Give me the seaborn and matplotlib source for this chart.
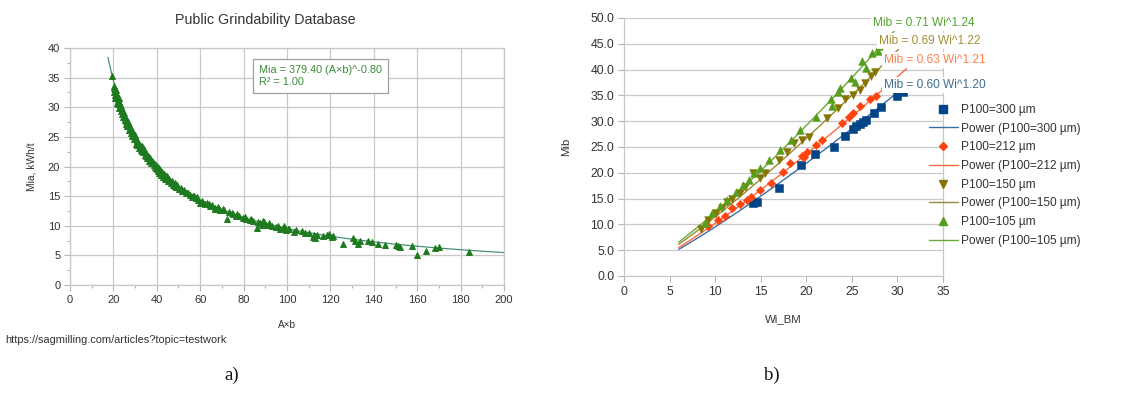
import numpy as np
import pandas as pd
import seaborn as sns
import matplotlib.pyplot as plt
from matplotlib.ticker import MultipleLocator, FormatStrFormatter
from matplotlib.lines import Line2D

# ---------------- data: panel a ----------------
ab = [19.5, 20.4, 20.5, 20.6, 20.7, 20.8, 21.0, 21.2, 21.4, 21.6, 21.9, 22.2, 22.5, 22.8, 23.1,
      23.4, 23.7, 24.0, 24.3, 24.6, 25.0, 25.3, 25.7, 26.0, 26.4, 26.8, 27.2, 27.6, 28.0, 28.4,
      28.8, 29.2, 29.6, 30.0, 30.3, 30.7, 31.1, 31.5, 31.9, 32.3, 32.7, 33.1, 33.5, 34.0, 34.5,
      35.0, 35.5, 36.0, 36.5, 37.0, 37.5, 38.0, 38.5, 39.0, 39.5, 40.0, 40.4, 40.8, 41.2, 41.6,
      42.0, 42.5, 43.0, 43.5, 44.0, 44.6, 45.2, 45.8, 46.4, 47.0, 47.6, 48.2, 48.8, 49.5, 50.2,
      51.0, 51.8, 52.6, 53.4, 54.3, 55.2, 56.1, 57.0, 58.0, 59.0, 60.0, 61.0, 62.0, 63.1, 64.3,
      65.5, 66.8, 68.0, 69.3, 70.5, 72.3, 73.5, 75.0, 76.5, 78.0, 79.5, 81.0, 82.8, 84.5, 86.2,
      87.5, 88.5, 89.5, 90.5, 91.5, 93.0, 95.0, 97.0, 98.5, 99.0, 99.5, 100.5, 103.0, 104.0, 107.0,
      108.5, 112.0, 112.5, 113.0, 116.5, 118.5, 119.5, 120.5, 126.0, 130.5, 131.5, 132.5, 137.5, 139.0,
      142.0, 145.0, 150.0, 152.0, 157.5, 160.0, 164.0, 168.0, 170.0, 184.0,
      20.5, 21.1, 21.8, 22.4, 23.0, 23.6, 24.2, 24.8, 25.5, 26.2, 26.9, 27.5, 28.2, 28.9, 29.5,
      30.1, 30.9, 31.7, 32.5, 33.3, 34.2, 35.2, 36.2, 37.2, 38.2, 39.2, 40.2, 41.0, 41.8, 42.8,
      43.8, 44.8, 46.0, 47.2, 48.5, 50.0, 52.0, 54.0, 56.5, 58.5, 61.5, 64.0, 67.0, 71.0, 74.5,
      77.0, 80.5, 83.5, 86.5, 89.0, 92.0, 96.0, 98.0, 101.0, 110.0, 114.0, 121.0, 133.5, 151.0]
mia = [35.3, 33.2, 32.6, 33.0, 32.0, 31.6, 32.4, 31.5, 31.9, 30.8, 31.2, 30.6, 30.9, 29.8, 30.2,
       29.4, 29.8, 28.9, 29.2, 28.3, 28.6, 27.9, 27.2, 27.6, 26.9, 27.0, 26.2, 26.5, 25.7, 25.9,
       25.1, 25.4, 24.6, 24.9, 23.8, 24.3, 23.6, 23.9, 23.2, 23.6, 22.8, 23.4, 22.5, 22.9, 21.9,
       22.3, 21.4, 21.8, 21.0, 21.4, 20.6, 20.9, 20.2, 20.5, 19.7, 20.1, 19.2, 19.8, 18.9, 19.4,
       18.6, 19.0, 18.3, 18.7, 17.9, 18.4, 17.6, 17.9, 17.2, 17.6, 16.9, 17.2, 16.6, 16.9, 16.2,
       16.4, 15.9, 16.1, 15.6, 15.5, 15.2, 14.9, 15.0, 14.6, 14.3, 13.9, 14.1, 13.7, 13.9, 13.3,
       13.5, 12.9, 13.1, 12.6, 12.8, 11.2, 12.3, 11.9, 11.6, 11.7, 11.3, 11.2, 11.0, 10.8, 9.6,
       10.5, 10.2, 10.6, 10.1, 10.4, 9.9, 9.8, 9.4, 10.0, 9.6, 9.2, 9.5, 9.0, 9.2, 9.1,
       8.8, 8.1, 8.5, 7.9, 8.3, 8.4, 8.6, 8.1, 7.0, 7.9, 7.5, 6.9, 7.5, 7.2,
       7.0, 6.7, 6.8, 6.4, 6.6, 5.0, 5.8, 6.2, 6.4, 5.6,
       33.6, 32.9, 31.9, 31.5, 30.6, 30.2, 29.6, 29.1, 28.2, 27.8, 27.5, 26.9, 26.1, 25.9, 25.2,
       25.3, 24.5, 23.7, 23.3, 22.7, 22.8, 21.7, 21.6, 20.9, 20.8, 20.0, 19.6, 19.5, 19.1, 18.6,
       18.5, 18.1, 17.6, 17.3, 16.7, 16.6, 15.9, 15.6, 15.0, 14.8, 13.8, 13.6, 13.0, 12.6, 12.1,
       11.9, 11.4, 11.2, 10.7, 10.8, 10.2, 9.9, 9.7, 9.4, 8.8, 8.5, 8.2, 7.4, 6.6]
fit_a_coef = 379.40
fit_a_exp = -0.80

# ---------------- data: panel b ----------------
w300 = [14.1, 14.6, 17.0, 19.4, 21.0, 23.0, 24.2, 25.1, 25.5, 25.9, 26.2, 26.5, 27.4, 28.2, 29.9, 30.6]
m300 = [14.1, 14.4, 17.1, 21.5, 23.6, 25.0, 27.1, 28.5, 29.1, 29.5, 29.9, 30.3, 31.6, 32.7, 34.8, 35.6]
w212 = [9.25, 10.3, 11.1, 11.9, 12.7, 13.5, 13.9, 14.9, 16.1, 17.4, 18.2, 19.5, 19.8, 20.1, 21.1,
        21.7, 23.9, 24.7, 25.1, 25.9, 27.0, 27.6, 28.6, 29.1]
m212 = [9.6, 10.9, 11.6, 13.1, 14.0, 14.7, 15.4, 16.7, 18.0, 20.2, 21.9, 23.3, 23.0, 24.1, 25.3,
        26.4, 29.6, 30.9, 31.6, 32.9, 34.2, 34.8, 36.4, 37.4]
w150 = [8.4, 9.25, 10.1, 10.7, 11.3, 11.9, 12.7, 13.3, 14.2, 14.9, 15.5, 17.0, 17.9, 18.7, 19.5,
        20.3, 22.3, 23.5, 24.3, 25.1, 25.9, 26.4, 27.1, 27.5]
m150 = [9.2, 10.9, 12.2, 13.1, 14.4, 14.9, 16.0, 17.3, 19.9, 19.0, 19.9, 22.5, 24.1, 25.7, 26.4,
        27.0, 30.6, 32.5, 34.2, 35.1, 36.1, 37.4, 38.7, 39.5]
w105 = [8.85, 9.65, 10.5, 11.3, 12.3, 13.1, 13.7, 14.3, 14.9, 15.9, 17.1, 18.3, 19.3, 21.1, 22.7,
        22.8, 23.5, 23.7, 24.9, 25.3, 26.1, 26.5, 27.2, 27.9, 28.0]
m105 = [10.2, 12.2, 13.5, 14.7, 16.2, 17.7, 18.6, 19.9, 20.9, 22.5, 24.5, 26.4, 28.3, 30.9, 34.2,
        33.0, 35.7, 36.4, 38.4, 37.5, 41.6, 40.3, 43.2, 43.5, 44.5]
series_names = ['P100=300 µm', 'P100=212 µm', 'P100=150 µm', 'P100=105 µm']
fit_b_coef = [0.60, 0.63, 0.69, 0.71]
fit_b_exp = [1.20, 1.21, 1.22, 1.24]
fit_b_start = [6.0, 6.0, 6.0, 6.0]
fit_b_end = [30.8, 31.0, 30.5, 29.8]

# ---------------- styling ----------------
sns.set_style("white")
plt.rcParams['font.family'] = ['Liberation Sans', 'DejaVu Sans']

fig = plt.figure(figsize=(11.36, 3.97), dpi=100)
ax1 = fig.add_axes([0.0616, 0.2821, 0.3821, 0.597])
ax2 = fig.add_axes([0.5493, 0.3048, 0.2808, 0.650])

grid_c = '#c8c8c8'
dark_green = '#1e7a1e'

# ---- panel a ----
df_a = pd.DataFrame({'Ab': ab, 'Mia': mia})
sns.scatterplot(data=df_a, x='Ab', y='Mia', marker='^', s=18, color=dark_green,
                edgecolor=dark_green, linewidth=0.7, ax=ax1, zorder=3, legend=False)
fx = np.linspace(17.5, 200, 300)
sns.lineplot(x=fx, y=fit_a_coef * fx ** fit_a_exp, color='#4a8f78', lw=0.9, ax=ax1, zorder=2)
ax1.set_xlim(0, 200)
ax1.set_ylim(0, 40)
ax1.xaxis.set_major_locator(MultipleLocator(20))
ax1.xaxis.set_minor_locator(MultipleLocator(10))
ax1.yaxis.set_major_locator(MultipleLocator(5))
ax1.yaxis.set_minor_locator(MultipleLocator(2.5))
ax1.grid(True, which='major', color=grid_c, lw=0.9)
ax1.set_axisbelow(True)
for s in ax1.spines.values():
    s.set_color(grid_c)
    s.set_linewidth(0.9)
ax1.tick_params(which='major', direction='out', length=4, width=0.8, color='#b5b5b5',
                labelcolor='#333333', labelsize=8, pad=3, bottom=True, left=True)
ax1.tick_params(which='minor', direction='out', length=2.5, width=0.8, color='#b5b5b5',
                bottom=True, left=True)
ax1.set_xlabel('A×b', fontsize=7.2, color='#333333', labelpad=11)
ax1.set_ylabel('Mia, kWh/t', fontsize=7.4, color='#333333', labelpad=8)
ax1.text(87.0, 37.2, 'Mia = 379.40 (A×b)^-0.80\nR² = 1.00', fontsize=7.8, color='#3a8a3a',
         va='top', ha='left', linespacing=1.3,
         bbox=dict(boxstyle='square,pad=0.55', fc='white', ec='#a0a0a0', lw=0.9), zorder=5)
fig.text(265 / 1136, 1 - 20 / 397, 'Public Grindability Database', ha='center', va='center',
         fontsize=10.3, color='#333333')
fig.text(5 / 1136, 1 - 340 / 397, 'https://sagmilling.com/articles?topic=testwork',
         fontsize=7.9, color='#333333', va='center', ha='left')

# ---- panel b ----
colors = ['#004586', '#ff420e', '#857500', '#579d1c']
line_colors = ['#3a6ea5', '#ff6a3d', '#9a8a3a', '#6aaa3a']
markers = ['s', 'D', 'v', '^']
sizes = [30, 18, 30, 30]
wis = [w300, w212, w150, w105]
mibs = [m300, m212, m150, m105]

for i in range(4):
    xs = np.linspace(fit_b_start[i], fit_b_end[i], 100)
    sns.lineplot(x=xs, y=fit_b_coef[i] * xs ** fit_b_exp[i], color=line_colors[i], lw=1.0,
                 ax=ax2, zorder=2)
for i in range(4):
    df_b = pd.DataFrame({'Wi_BM': wis[i], 'Mib': mibs[i]})
    sns.scatterplot(data=df_b, x='Wi_BM', y='Mib', marker=markers[i], s=sizes[i],
                    color=colors[i], edgecolor=colors[i], linewidth=0.4, ax=ax2, zorder=3,
                    legend=False)

ax2.set_xlim(0, 35)
ax2.set_ylim(0, 50)
ax2.xaxis.set_major_locator(MultipleLocator(5))
ax2.yaxis.set_major_locator(MultipleLocator(5))
ax2.yaxis.set_major_formatter(FormatStrFormatter('%.1f'))
ax2.grid(True, axis='y', color=grid_c, lw=0.9)
ax2.grid(False, axis='x')
ax2.set_axisbelow(True)
ax2.spines['top'].set_visible(False)
for k in ['left', 'bottom', 'right']:
    ax2.spines[k].set_color(grid_c)
    ax2.spines[k].set_linewidth(0.9)
ax2.tick_params(direction='out', length=4, width=0.8, color='#b5b5b5', labelcolor='#333333',
                labelsize=8.8, pad=3, bottom=True, left=True)
ax2.set_xlabel('Wi_BM', fontsize=8.2, color='#333333', labelpad=12)
ax2.set_ylabel('Mib', fontsize=8.2, color='#333333', labelpad=14)

eq_labels = ['Mib = 0.60 Wi^1.20', 'Mib = 0.63 Wi^1.21', 'Mib = 0.69 Wi^1.22', 'Mib = 0.71 Wi^1.24']
eq_colors = ['#3f6e8e', '#ff7f4a', '#a48f34', '#55a32e']
eq_pos = [(28.5, 37.0), (28.5, 41.9), (28.0, 45.5), (27.3, 49.0)]
for lab, c, (px, py) in zip(eq_labels, eq_colors, eq_pos):
    ax2.text(px, py, lab, color=c, fontsize=8.6, va='center', ha='left', clip_on=False,
             bbox=dict(boxstyle='square,pad=0.15', fc='white', ec='none'), zorder=6)

handles, labels = [], []
for i in range(4):
    handles.append(Line2D([], [], marker=markers[i], ls='', color=colors[i],
                          markersize=6 if markers[i] != 'D' else 4.5))
    labels.append(series_names[i])
    handles.append(Line2D([], [], color=line_colors[i], lw=1.0))
    labels.append('Power (' + series_names[i] + ')')
fig.legend(handles, labels, loc='upper left', bbox_to_anchor=(923 / 1136, 1 - 98 / 397),
           frameon=False, fontsize=8.6, handlelength=2.4, handletextpad=0.3,
           labelspacing=0.56, borderpad=0, labelcolor='#333333')

fig.text(232 / 1136, 1 - 375 / 397, 'a)', family='Liberation Serif', fontsize=13.5,
         ha='center', va='center', color='#111111')
fig.text(772 / 1136, 1 - 375 / 397, 'b)', family='Liberation Serif', fontsize=13.5,
         ha='center', va='center', color='#111111')

fig.savefig('out.png', dpi=100)
